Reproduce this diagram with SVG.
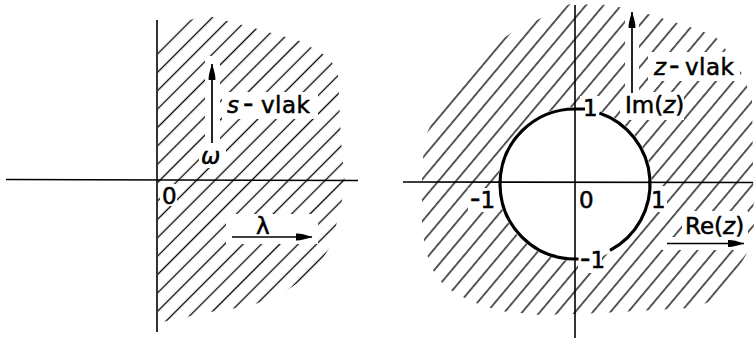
<svg xmlns="http://www.w3.org/2000/svg" width="755" height="342" viewBox="0 0 755 342">
<style>
.ax{stroke:#000;stroke-width:1.6;fill:none}
.arr{stroke:#000;stroke-width:1.7;fill:none}
.ko{fill:#fff;stroke:none}
text{font-family:"DejaVu Sans","Liberation Sans",sans-serif;font-size:23px;fill:#000;stroke:#000;stroke-width:0.55}
.it{font-style:italic}
.dash{font-size:29px}
</style>
<defs>
<pattern id="hatchL" patternUnits="userSpaceOnUse" width="13" height="13" patternTransform="rotate(-45)">
<line x1="-1" y1="6.5" x2="14" y2="6.5" stroke="#000" stroke-width="1.3"/>
</pattern>
<pattern id="hatchR" patternUnits="userSpaceOnUse" width="13.5" height="13.5" patternTransform="rotate(-50)">
<line x1="-1" y1="6.7" x2="14.5" y2="6.7" stroke="#000" stroke-width="1.3"/>
</pattern>
<clipPath id="clipL">
<path d="M158,40 L175,25 L205,15 L250,27 L300,41 L330,58 L338,75 L341,140 L345,185 L339,215 L330,247 L314,272 L280,295 L250,306 L210,312 L172,320 L158,323 Z"/>
</clipPath>
<clipPath id="clipR">
<path clip-rule="evenodd" d="M422,178 L424,140 L442,99 L480,54 L511,33 L543,17 L570,4 L610,5 L645,13 L690,27 L715,36 L738,65 L752,98 L754,240 L742,262 L716,300 L690,308 L600,313 L540,315 L500,311 L470,301 L445,287 L430,266 L422,232 Z M575,107 A77,77 0 1 0 575.01,107 Z"/>
</clipPath>
<marker id="head" markerUnits="userSpaceOnUse" markerWidth="17" markerHeight="8" refX="16" refY="4" orient="auto">
<path d="M0,0.6 Q5,0.2 16,4 Q5,7.8 0,7.4 Z" fill="#000"/>
</marker>
</defs>

<g id="s-plane">
<g id="s-hatch">
<rect x="150" y="0" width="210" height="342" fill="url(#hatchL)" clip-path="url(#clipL)"/>
<rect class="ko" x="222" y="92" width="96" height="27"/>
<rect class="ko" x="205" y="56" width="15" height="112"/>
<rect class="ko" x="199" y="145" width="27" height="22"/>
<rect class="ko" x="226" y="214" width="92" height="30"/>
<rect class="ko" x="160" y="184" width="17" height="22"/>
</g>
<g id="s-axes">
<line class="ax" x1="157" y1="20" x2="157" y2="332"/>
<line class="ax" x1="6" y1="179.5" x2="358" y2="180.5"/>
</g>
<g id="s-arrows">
<line class="arr" x1="212" y1="143" x2="212" y2="64" marker-end="url(#head)"/>
<line class="arr" x1="232" y1="237" x2="312" y2="237" marker-end="url(#head)"/>
</g>
<g id="s-labels">
<text x="227" y="113"><tspan class="it">s</tspan><tspan class="dash" x="243">-</tspan><tspan x="261" letter-spacing="0.5">vlak</tspan></text>
<text class="it" x="201" y="164" font-size="25">ω</text>
<text x="256" y="234" font-size="24">λ</text>
<text x="162" y="204">0</text>
</g>
</g>

<g id="z-plane">
<g id="z-hatch">
<rect x="400" y="0" width="355" height="342" fill="url(#hatchR)" clip-path="url(#clipR)"/>
<rect class="ko" x="625" y="4" width="14" height="98"/>
<rect class="ko" x="648" y="52" width="92" height="29"/>
<rect class="ko" x="620" y="92" width="64" height="28"/>
<rect class="ko" x="580" y="96" width="20" height="24"/>
<rect class="ko" x="649" y="186" width="18" height="26"/>
<rect class="ko" x="682" y="211" width="66" height="28"/>
<rect class="ko" x="662" y="237" width="88" height="13"/>
<rect class="ko" x="578" y="249" width="24" height="24"/>
<rect class="ko" x="468" y="188" width="32" height="24"/>
</g>
<g id="z-axes">
<line class="ax" x1="575" y1="5" x2="575" y2="338"/>
<line class="ax" x1="403" y1="182" x2="753" y2="182.5"/>
</g>
<g id="unit-circle">
<path d="M599.4,113 A75,75 0 0 1 610,250.3" fill="none" stroke="#000" stroke-width="3.2"/>
<path d="M578.5,259 L575,259 A75,75 0 0 1 500,184 A75,75 0 0 1 575,109 L585,109" fill="none" stroke="#000" stroke-width="3.2"/>
</g>
<g id="z-arrows">
<line class="arr" x1="632" y1="93" x2="632" y2="12" marker-end="url(#head)"/>
<line class="arr" x1="667" y1="243.5" x2="744" y2="243.5" marker-end="url(#head)"/>
</g>
<g id="z-labels">
<text x="654" y="75"><tspan class="it">z</tspan><tspan class="dash" x="669">-</tspan><tspan x="685" letter-spacing="0.5">vlak</tspan></text>
<text x="625" y="113">Im(<tspan class="it">z</tspan>)</text>
<text x="583" y="116">1</text>
<text x="470" y="208"><tspan class="dash">-</tspan>1</text>
<text x="579" y="208">0</text>
<text x="651" y="208">1</text>
<text x="580" y="268"><tspan class="dash">-</tspan>1</text>
<text x="685" y="234">Re(<tspan class="it">z</tspan>)</text>
</g>
</g>
</svg>
